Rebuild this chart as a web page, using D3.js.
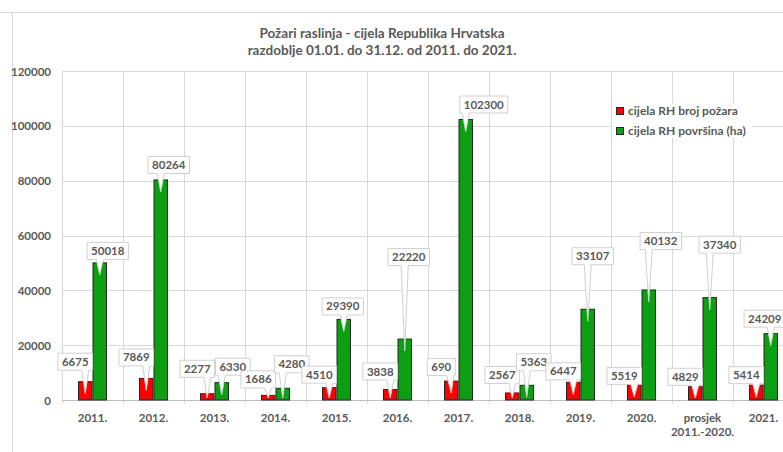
<!DOCTYPE html>
<html>
<head>
<meta charset="utf-8">
<script src="https://cdn.jsdelivr.net/npm/d3@7"></script>
<style>
    body { margin: 0; background: #fff; overflow: hidden; }
    text { font-family: Lato, "Open Sans", sans-serif; fill: #595959; font-weight: 700; }
</style>
</head>
<body>
<div id="chart"></div>
<script>
// podaci
const titleLines = ["Požari raslinja - cijela Republika Hrvatska", "razdoblje 01.01. do 31.12. od 2011. do 2021."];
const categories = ["2011.", "2012.", "2013.", "2014.", "2015.", "2016.", "2017.", "2018.", "2019.", "2020.", "prosjek\n2011.-2020.", "2021."];
const seriesNames = ["cijela RH broj požara", "cijela RH površina (ha)"];
const brojPozara = [6675, 7869, 2277, 1686, 4510, 3838, 6900, 2567, 6447, 5519, 4829, 5414];
const brojLabels = ["6675", "7869", "2277", "1686", "4510", "3838", "690", "2567", "6447", "5519", "4829", "5414"];
const povrsina = [50018, 80264, 6330, 4280, 29390, 22220, 102300, 5363, 33107, 40132, 37340, 24209];
const yTicks = [0, 20000, 40000, 60000, 80000, 100000, 120000];

// raspored oblacica (px iznad vrha stupca) - samo izgled
const redLift = [20, 21, 25, 16, 13, 18, 14, 18, 11, 9, 10, 10];
const greenLift = [12, 15, 16, 24, 13, 82, 15, 23, 53, 49, 53, 15];
const greenShift = [8, 8, 11, 9, -1, 4, 18, 7, 5, 12, 10, -6];

const colors = ["#ff0000", "#0c9f12"];
const width = 783, height = 452;
const margin = {top: 71, left: 62, bottom: 52};
const plotRight = 794;
const baseY = height - margin.bottom;

const svg = d3.select("#chart").append("svg")
    .attr("width", width)
    .attr("height", height);

// okvir grafikona
svg.append("line").attr("x1", 0).attr("x2", width).attr("y1", 12.5).attr("y2", 12.5)
    .attr("stroke", "#d9d9d9");
svg.append("line").attr("x1", 12.5).attr("x2", 12.5).attr("y1", 12).attr("y2", height)
    .attr("stroke", "#d9d9d9");

// naslov
svg.append("g").selectAll("text")
    .data(titleLines)
    .join("text")
    .attr("x", 382)
    .attr("y", (d, i) => 38 + i * 17)
    .attr("text-anchor", "middle")
    .style("font-size", "13.5px")
    .text(d => d);

const x0 = d3.scaleBand()
    .domain(categories)
    .range([margin.left, plotRight])
    .paddingInner(0.525)
    .paddingOuter(0.2625);
const x1 = d3.scaleBand()
    .domain([0, 1])
    .range([0, x0.bandwidth()]);
const y = d3.scaleLinear()
    .domain([0, 120000])
    .range([baseY, margin.top]);

// mreza
const grid = svg.append("g").attr("stroke", "#d9d9d9").attr("stroke-width", 1);
grid.selectAll(".hGrid")
    .data(yTicks.slice(1))
    .join("line")
    .attr("class", "hGrid")
    .attr("x1", margin.left).attr("x2", plotRight)
    .attr("y1", d => Math.round(y(d)) + 0.5).attr("y2", d => Math.round(y(d)) + 0.5);
grid.selectAll(".vGrid")
    .data(d3.range(categories.length + 1))
    .join("line")
    .attr("class", "vGrid")
    .attr("x1", i => Math.round(margin.left + i * x0.step()) + 0.5)
    .attr("x2", i => Math.round(margin.left + i * x0.step()) + 0.5)
    .attr("y1", margin.top).attr("y2", baseY + 4);
grid.append("line")
    .attr("x1", margin.left).attr("x2", plotRight)
    .attr("y1", baseY + 0.5).attr("y2", baseY + 0.5)
    .attr("stroke", "#bfbfbf");

// os y
const yAxis = svg.append("g")
    .attr("transform", "translate(51,0)")
    .call(d3.axisLeft(y).tickValues(yTicks).tickSize(0).tickPadding(0).tickFormat(d3.format("d")));
yAxis.select(".domain").remove();
yAxis.selectAll("text").style("font-size", "11.5px").attr("dy", "0.35em");

// os x
const xLabels = svg.append("g").selectAll("text")
    .data(categories)
    .join("text")
    .attr("x", d => x0(d) + x0.bandwidth() / 2)
    .attr("y", 422)
    .attr("text-anchor", "middle")
    .style("font-size", "11.5px");
xLabels.selectAll("tspan")
    .data(d => d.split("\n"))
    .join("tspan")
    .attr("x", function () { return d3.select(this.parentNode).attr("x"); })
    .attr("dy", (d, i) => i === 0 ? 0 : 14)
    .text(d => d);

// stupci
const rows = categories.map((c, i) => ({cat: c, vals: [brojPozara[i], povrsina[i]]}));
const groups = svg.append("g").selectAll("g")
    .data(rows)
    .join("g")
    .attr("transform", d => "translate(" + x0(d.cat) + ",0)");
groups.selectAll("rect")
    .data(d => d.vals)
    .join("rect")
    .attr("x", (d, i) => x1(i) + 0.5)
    .attr("y", d => y(d))
    .attr("width", x1.bandwidth() - 1)
    .attr("height", d => baseY - y(d))
    .attr("fill", (d, i) => colors[i])
    .attr("stroke", "#262626")
    .attr("stroke-width", 1);

// oblacici s vrijednostima
const callouts = svg.append("g");
function callout(cx, top, label, dx, lift) {
    const g = callouts.append("g");
    const t = g.append("text")
        .attr("x", cx + dx)
        .attr("y", top - lift)
        .attr("dy", "0.35em")
        .attr("text-anchor", "middle")
        .style("font-size", "11.5px")
        .text(label);
    const w = t.node().getComputedTextLength() + 8;
    const h = 17;
    const left = cx + dx - w / 2, right = left + w;
    const boxTop = top - lift - h / 2, boxBottom = boxTop + h;
    const tipY = Math.min(top + 12, baseY - 2);
    const bc = Math.max(left + 5, Math.min(right - 5, cx));
    const path = d3.path();
    path.moveTo(left, boxTop);
    path.lineTo(right, boxTop);
    path.lineTo(right, boxBottom);
    path.lineTo(bc + 3.5, boxBottom);
    path.lineTo(cx, tipY);
    path.lineTo(bc - 3.5, boxBottom);
    path.lineTo(left, boxBottom);
    path.closePath();
    g.insert("path", "text")
        .attr("d", path.toString())
        .attr("fill", "#fff")
        .attr("stroke", "#d0d0d0")
        .attr("stroke-width", 1);
}
rows.forEach((r, i) => {
    const redX = x0(r.cat) + x1(0) + x1.bandwidth() / 2;
    const greenX = x0(r.cat) + x1(1) + x1.bandwidth() / 2;
    callout(redX, y(brojPozara[i]), brojLabels[i], -10, redLift[i]);
    callout(greenX, y(povrsina[i]), String(povrsina[i]), greenShift[i], greenLift[i]);
});

// legenda
const legend = svg.append("g").attr("transform", "translate(612,103)");
legend.append("rect").attr("width", 140).attr("height", 35).attr("fill", "#fff");
const items = legend.selectAll(".item")
    .data(seriesNames)
    .join("g")
    .attr("class", "item")
    .attr("transform", (d, i) => "translate(4," + (4 + i * 20) + ")");
items.append("rect")
    .attr("width", 7).attr("height", 7)
    .attr("x", 0.5).attr("y", 0.5)
    .attr("fill", (d, i) => colors[i])
    .attr("stroke", "#262626");
items.append("text")
    .attr("x", 12)
    .attr("y", 4)
    .attr("dy", "0.35em")
    .style("font-size", "12px")
    .text(d => d);
</script>
</body>
</html>
